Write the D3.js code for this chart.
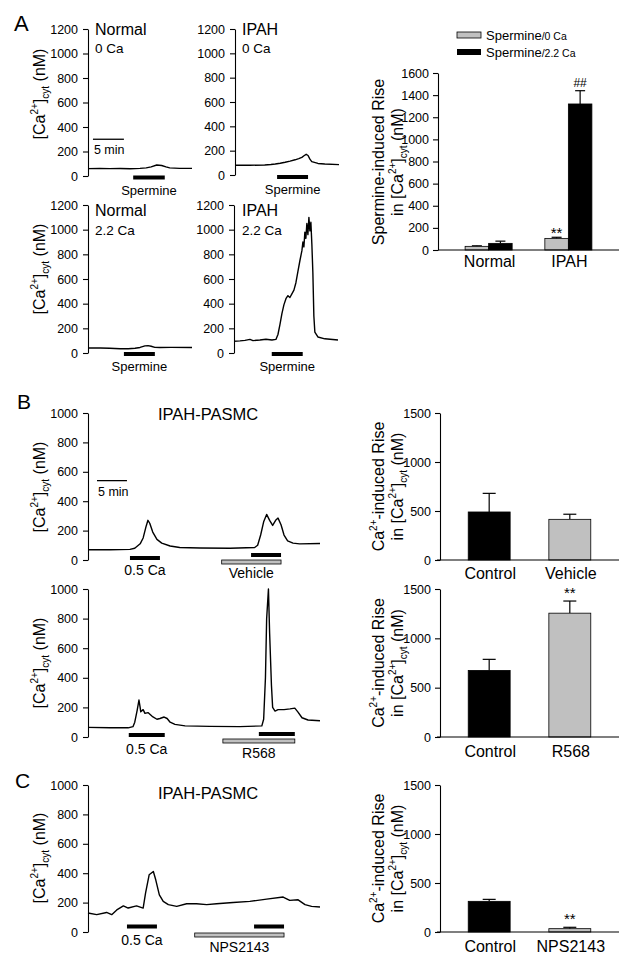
<!DOCTYPE html>
<html><head><meta charset="utf-8">
<script src="https://cdn.jsdelivr.net/npm/d3@7"></script>
<style>
body{margin:0;background:#fff}
text{font-family:"Liberation Sans",Arial,Helvetica,sans-serif;fill:#000}
</style>
</head><body>
<svg id="c" width="635" height="974"></svg>
<script>
// ---------------- DATA ----------------
// Traces: [time (min), [Ca2+]cyt (nM)]
const traceNormal0Ca = [[0,60],[1.9,62],[3.5,60],[5.2,61],[6.8,59],[8.4,62],[9.4,66],[10.2,75],[11.1,90],[11.9,86],[12.6,74],[13.2,66],[14.8,62],[16.8,62]];
const traceIPAH0Ca = [[0,80],[2.4,80],[4.8,82],[5.8,86],[6.5,90],[7.3,97],[8.1,105],[8.9,114],[9.7,125],[10.3,135],[10.8,145],[11.2,160],[11.5,170],[11.8,160],[12.1,130],[12.4,110],[13.4,95],[14.5,90],[16.8,85]];
const traceNormal22Ca = [[0,40],[2.0,40],[3.5,38],[5.2,35],[6.5,35],[7.6,38],[8.4,45],[9.2,58],[9.7,60],[10.2,55],[10.8,46],[11.6,45],[13.4,46],[16.8,45]];
const traceIPAH22Ca = [[0,95],[0.97,98],[1.77,102],[2.58,110],[3.06,100],[4.19,105],[5.16,112],[6.13,105],[6.77,110],[7.1,150],[7.42,230],[7.74,320],[8.06,390],[8.39,440],[8.71,465],[9.03,450],[9.35,480],[9.68,510],[10.0,570],[10.32,660],[10.65,750],[10.97,830],[11.13,900],[11.29,860],[11.45,980],[11.61,930],[11.77,1050],[11.94,960],[12.1,1100],[12.26,990],[12.42,1060],[12.58,880],[12.74,650],[12.9,300],[13.06,170],[13.55,130],[14.68,115],[16.8,105]];
const traceVehicle = [[0,70],[3.7,70],[7,72],[7.8,80],[8.7,110],[9.2,150],[9.7,230],[10,270],[10.3,250],[10.8,190],[11.5,140],[12.3,115],[13.7,95],[15.3,85],[18.7,82],[23.7,80],[27.8,85],[28.3,100],[28.8,170],[29.3,260],[29.8,310],[30.3,270],[30.8,235],[31.3,270],[31.7,285],[32.2,240],[32.7,170],[33.3,130],[34.2,115],[35.3,110],[38.7,112]];
const traceR568 = [[0,65],[3.7,62],[6.7,62],[7.5,70],[7.8,100],[8.2,180],[8.5,250],[8.7,200],[8.8,170],[9.2,185],[9.5,160],[10,165],[10.7,140],[11.5,120],[12,125],[12.7,135],[13.2,125],[13.7,100],[14.5,85],[16.2,75],[20.3,72],[25.3,70],[29,75],[29.3,120],[29.6,400],[29.8,800],[30.1,1000],[30.3,700],[30.6,350],[30.8,200],[31.2,175],[31.7,185],[32.7,185],[33.7,190],[34.5,195],[35,170],[35.7,130],[36.7,115],[38.7,110]];
const traceNPS = [[0,129],[1.45,118],[3.1,133],[3.95,118],[4.8,150],[5.9,178],[6.7,163],[8.1,178],[9.2,163],[9.6,265],[10.2,389],[10.9,412],[11.3,355],[11.9,253],[12.55,208],[13.4,186],[14.8,174],[16.45,192],[18.1,192],[19.8,186],[21.45,192],[24.2,201],[27,208],[29.8,224],[32.55,238],[33.65,215],[35.05,219],[36.2,186],[37.3,174],[38.7,170]];

const traceTicksA = [0,200,400,600,800,1000,1200];
const traceTicksBC = [0,200,400,600,800,1000];

// Stimulus periods (min)
const spermineNormal0 = [7.3,12.4];
const spermineIPAH0 = [6.8,11.8];
const spermineNormal22 = [5.8,10.8];
const spermineIPAH22 = [6.1,11.1];
const ca05Vehicle = [7,12], vehiclePeriod = [22.3,32.2], caVehicle = [27.2,32.2];
const ca05R568 = [6.8,12.8], r568Period = [22.5,34.5], caR568 = [28.5,34.5];
const ca05NPS = [6.5,11.5], npsPeriod = [17.8,32.7], caNPS = [27.7,32.7];
const scaleBarMin = 5;

// Bar charts
const groupsA = ["Normal","IPAH"];
const seriesA = ["Spermine/0 Ca","Spermine/2.2 Ca"];
const meansA0 = [33,105], semA0 = [5,10];
const meansA22 = [60,1320], semA22 = [20,120];
const ticksA = [0,200,400,600,800,1000,1200,1400,1600];

const catsB1 = ["Control","Vehicle"], meansB1 = [490,415], semB1 = [190,52];
const catsB2 = ["Control","R568"], meansB2 = [675,1255], semB2 = [112,123];
const catsC = ["Control","NPS2143"], meansC = [313,34], semC = [20,14];
const ticksBar = [0,500,1000,1500];

// ---------------- DRAWING ----------------
const svg = d3.select('#c');
const GRAY = '#c0c0c0';
const fmt = d3.format('d');

function styleAxis(sel){
  sel.select('.domain').attr('stroke','#000').attr('stroke-width',1.1);
  sel.selectAll('.tick line').attr('stroke','#000').attr('stroke-width',1.1);
  sel.selectAll('.tick text').attr('font-size',12.5).attr('fill','#000')
     .attr('font-family','"Liberation Sans",Arial,sans-serif');
}

function caLabel(x, y){
  const g = svg.append('g').attr('transform',`translate(${x},${y}) rotate(-90)`);
  const t = g.append('text').attr('text-anchor','middle').attr('font-size',16);
  t.append('tspan').text('[Ca');
  t.append('tspan').attr('font-size',10).attr('dy',-7).text('2+');
  t.append('tspan').attr('dy',7).text(']');
  t.append('tspan').attr('font-size',10).attr('dy',4).text('cyt');
  t.append('tspan').attr('dy',-4).text(' (nM)');
  return g;
}

function tracePanel(cfg){
  const x = d3.scaleLinear().domain([0,cfg.tMax]).range([cfg.x0,cfg.x1]);
  const y = d3.scaleLinear().domain([0,cfg.yMax]).range([cfg.yBot,cfg.yTop]);
  svg.append('g').attr('transform',`translate(${cfg.x0},0)`)
    .call(d3.axisLeft(y).tickValues(cfg.ticks).tickFormat(fmt).tickSize(5).tickSizeOuter(0).tickPadding(5))
    .call(styleAxis);
  svg.append('path').datum(cfg.data)
    .attr('d', d3.line().x(d=>x(d[0])).y(d=>y(d[1])))
    .attr('fill','none').attr('stroke','#000').attr('stroke-width',1.4).attr('stroke-linejoin','round');
  return {x,y};
}

function stim(p, period, dy, kind){
  const x0 = p.x(period[0]), x1 = p.x(period[1]);
  const yc = p.y(0) + dy;
  if(kind==='gray'){
    svg.append('rect').attr('x',x0).attr('y',yc-2).attr('width',x1-x0).attr('height',4)
      .attr('fill',GRAY).attr('stroke','#000').attr('stroke-width',0.8);
  } else {
    svg.append('rect').attr('x',x0).attr('y',yc-2).attr('width',x1-x0).attr('height',4).attr('fill','#000');
  }
  return (x0+x1)/2;
}

function label(x,y,txt,size,anchor){
  return svg.append('text').attr('x',x).attr('y',y).attr('font-size',size)
    .attr('text-anchor',anchor||'middle').text(txt);
}

// ----- Panel A traces -----
const A1 = tracePanel({x0:88,x1:192,yTop:29,yBot:176,yMax:1200,ticks:traceTicksA,tMax:16.8,data:traceNormal0Ca});
const A2 = tracePanel({x0:235,x1:339,yTop:29,yBot:175,yMax:1200,ticks:traceTicksA,tMax:16.8,data:traceIPAH0Ca});
const A3 = tracePanel({x0:88,x1:192,yTop:205,yBot:353,yMax:1200,ticks:traceTicksA,tMax:16.8,data:traceNormal22Ca});
const A4 = tracePanel({x0:234,x1:338,yTop:205,yBot:353,yMax:1200,ticks:traceTicksA,tMax:16.8,data:traceIPAH22Ca});

label(95,35,'Normal',16,'start'); label(95,53,'0 Ca',13.5,'start');
label(242,35,'IPAH',16,'start'); label(242,53,'0 Ca',13.5,'start');
label(95,216,'Normal',16,'start'); label(95,235,'2.2 Ca',13.5,'start');
label(242,216,'IPAH',16,'start'); label(242,235,'2.2 Ca',13.5,'start');

[[A1,spermineNormal0,1.5],[A2,spermineIPAH0,2],[A3,spermineNormal22,1],[A4,spermineIPAH22,1]].forEach(([p,per,dy])=>{
  const cx = stim(p,per,dy,'black');
  label(cx,p.y(0)+dy+17,'Spermine',13);
});
// 5 min scale bar (A)
svg.append('line').attr('x1',A1.x(0.8)).attr('x2',A1.x(0.8+scaleBarMin)).attr('y1',A1.y(300)).attr('y2',A1.y(300)).attr('stroke','#000').attr('stroke-width',1.3);
label(A1.x(0.8)+1,A1.y(300)+15,'5 min',12.5,'start');

label(14,31,'A',22,'start');
caLabel(45,94); caLabel(45,269);

// ----- Panel A bars -----
(function(){
  const x0=438,x1=619,yTop=73,yBot=250;
  const y = d3.scaleLinear().domain([0,1600]).range([yBot,yTop]);
  const xg = d3.scaleBand().domain(groupsA).range([x0,x1]).paddingInner(0.41).paddingOuter(0.34);
  const xs = d3.scaleBand().domain(seriesA).range([0,xg.bandwidth()]);
  svg.append('g').attr('transform',`translate(${x0},0)`)
    .call(d3.axisLeft(y).tickValues(ticksA).tickFormat(fmt).tickSize(5).tickSizeOuter(0).tickPadding(4)).call(styleAxis);
  const sets = [[meansA0,semA0,GRAY,seriesA[0]],[meansA22,semA22,'#000',seriesA[1]]];
  sets.forEach(([m,s,col,ser])=>{
    groupsA.forEach((gname,i)=>{
      const bx = xg(gname)+xs(ser), bw = xs.bandwidth(), cx = bx+bw/2;
      svg.append('line').attr('x1',cx).attr('x2',cx).attr('y1',y(m[i])).attr('y2',y(m[i]+s[i])).attr('stroke','#000').attr('stroke-width',1.2);
      svg.append('line').attr('x1',cx-5).attr('x2',cx+5).attr('y1',y(m[i]+s[i])).attr('y2',y(m[i]+s[i])).attr('stroke','#000').attr('stroke-width',1.2);
      svg.append('rect').attr('x',bx).attr('y',y(m[i])).attr('width',bw).attr('height',yBot-y(m[i]))
        .attr('fill',col).attr('stroke','#000').attr('stroke-width',0.8);
    });
  });
  svg.append('line').attr('x1',x0).attr('x2',x1).attr('y1',yBot).attr('y2',yBot).attr('stroke','#000').attr('stroke-width',1.1);
  groupsA.forEach(gname=>label(xg(gname)+xg.bandwidth()/2+1,267,gname,16));
  const ipahGray = xg('IPAH')+xs(seriesA[0])+xs.bandwidth()/2;
  const ipahBlack = xg('IPAH')+xs(seriesA[1])+xs.bandwidth()/2;
  label(ipahGray,y(meansA0[1]+semA0[1])+1,'**',15);
  label(ipahBlack,y(meansA22[1]+semA22[1])-4,'##',12);
  // legend
  svg.append('rect').attr('x',457).attr('y',32).attr('width',24).attr('height',6).attr('fill',GRAY).attr('stroke','#000').attr('stroke-width',0.8);
  svg.append('rect').attr('x',457).attr('y',49).attr('width',24).attr('height',6).attr('fill','#000');
  [[40,'Spermine','/0 Ca'],[56.5,'Spermine','/2.2 Ca']].forEach(([yy,a,b])=>{
    const t = svg.append('text').attr('x',486).attr('y',yy).attr('font-size',13);
    t.append('tspan').text(a);
    t.append('tspan').attr('font-size',10.5).text(b);
  });
  const g = svg.append('g').attr('transform','translate(384,162) rotate(-90)');
  g.append('text').attr('text-anchor','middle').attr('font-size',16).text('Spermine-induced Rise');
  const t = g.append('text').attr('text-anchor','middle').attr('font-size',16).attr('y',19);
  t.append('tspan').text('in [Ca');
  t.append('tspan').attr('font-size',10).attr('dy',-7).text('2+');
  t.append('tspan').attr('dy',7).text(']');
  t.append('tspan').attr('font-size',10).attr('dy',4).text('cyt');
  t.append('tspan').attr('dy',-4).text(' (nM)');
})();

// ----- Simple 2-bar charts -----
function twoBar(cfg){
  const x0=440,x1=619;
  const y = d3.scaleLinear().domain([0,1500]).range([cfg.yBot,cfg.yTop]);
  const x = d3.scaleBand().domain(cfg.cats).range([x0,x1]).paddingInner(0.48).paddingOuter(0.35);
  svg.append('g').attr('transform',`translate(${x0},0)`)
    .call(d3.axisLeft(y).tickValues(ticksBar).tickFormat(fmt).tickSize(5).tickSizeOuter(0).tickPadding(4)).call(styleAxis);
  cfg.cats.forEach((c,i)=>{
    const bx = x(c), bw = x.bandwidth(), cx = bx+bw/2, top = y(cfg.means[i]+cfg.sem[i]);
    svg.append('line').attr('x1',cx).attr('x2',cx).attr('y1',y(cfg.means[i])).attr('y2',top).attr('stroke','#000').attr('stroke-width',1.2);
    svg.append('line').attr('x1',cx-6.5).attr('x2',cx+6.5).attr('y1',top).attr('y2',top).attr('stroke','#000').attr('stroke-width',1.2);
    svg.append('rect').attr('x',bx).attr('y',y(cfg.means[i])).attr('width',bw).attr('height',cfg.yBot-y(cfg.means[i]))
      .attr('fill',cfg.colors[i]).attr('stroke','#000').attr('stroke-width',0.8);
    label(cx+1,cfg.labelY,c,16);
    if(cfg.star[i]) label(cx,top-3,'**',15);
  });
  svg.append('line').attr('x1',x0-3).attr('x2',x1).attr('y1',cfg.yBot).attr('y2',cfg.yBot).attr('stroke','#000').attr('stroke-width',1.1);
  const cy = (cfg.yTop+cfg.yBot)/2;
  const g = svg.append('g').attr('transform',`translate(384,${cy}) rotate(-90)`);
  const t1 = g.append('text').attr('text-anchor','middle').attr('font-size',16);
  t1.append('tspan').text('Ca');
  t1.append('tspan').attr('font-size',10).attr('dy',-7).text('2+');
  t1.append('tspan').attr('dy',7).text('-induced Rise');
  const t = g.append('text').attr('text-anchor','middle').attr('font-size',16).attr('y',19);
  t.append('tspan').text('in [Ca');
  t.append('tspan').attr('font-size',10).attr('dy',-7).text('2+');
  t.append('tspan').attr('dy',7).text(']');
  t.append('tspan').attr('font-size',10).attr('dy',4).text('cyt');
  t.append('tspan').attr('dy',-4).text(' (nM)');
}
twoBar({yTop:413,yBot:560,cats:catsB1,means:meansB1,sem:semB1,colors:['#000',GRAY],star:[false,false],labelY:579});
twoBar({yTop:589,yBot:737,cats:catsB2,means:meansB2,sem:semB2,colors:['#000',GRAY],star:[false,true],labelY:757});
twoBar({yTop:785,yBot:932,cats:catsC,means:meansC,sem:semC,colors:['#000',GRAY],star:[false,true],labelY:952});

// ----- Panel B & C traces -----
const B1 = tracePanel({x0:88,x1:320,yTop:413,yBot:560,yMax:1000,ticks:traceTicksBC,tMax:38.7,data:traceVehicle});
const B2 = tracePanel({x0:88,x1:320,yTop:589,yBot:737,yMax:1000,ticks:traceTicksBC,tMax:38.7,data:traceR568});
const C1 = tracePanel({x0:88,x1:320,yTop:785,yBot:932,yMax:1000,ticks:traceTicksBC,tMax:38.7,data:traceNPS});

label(208,420,'IPAH-PASMC',16.5);
label(208,799,'IPAH-PASMC',16.5);
label(17,409,'B',21,'start');
label(15,788,'C',21,'start');

svg.append('line').attr('x1',B1.x(1.5)).attr('x2',B1.x(1.5+scaleBarMin)).attr('y1',B1.y(540)).attr('y2',B1.y(540)).attr('stroke','#000').attr('stroke-width',1.3);
label(B1.x(1.5)+1,B1.y(540)+15,'5 min',12.5,'start');

let cx;
cx = stim(B1,ca05Vehicle,-2,'black'); label(cx,575,'0.5 Ca',14);
cx = stim(B1,vehiclePeriod,2,'gray'); label(cx,578,'Vehicle',14);
stim(B1,caVehicle,-5,'black');

cx = stim(B2,ca05R568,-2,'black'); label(cx,754,'0.5 Ca',14);
cx = stim(B2,r568Period,4,'gray'); label(cx,758,'R568',14);
stim(B2,caR568,-3,'black');

cx = stim(C1,ca05NPS,-5.5,'black'); label(cx,945,'0.5 Ca',14);
cx = stim(C1,npsPeriod,3,'gray'); label(cx,952,'NPS2143',14);
stim(C1,caNPS,-5.5,'black');

caLabel(45,487); caLabel(45,663); caLabel(45,858);
</script>
</body></html>
